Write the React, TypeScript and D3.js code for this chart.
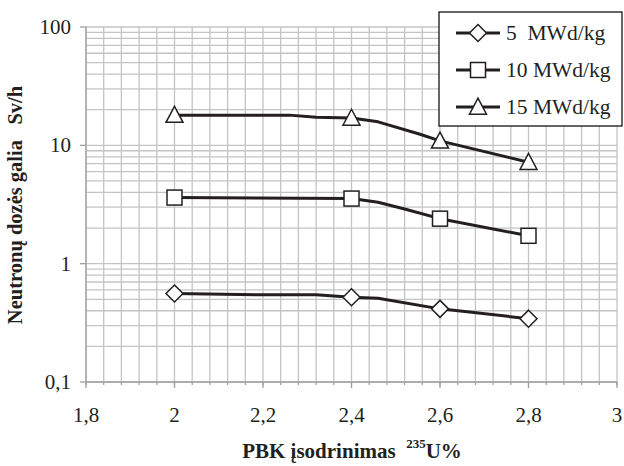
import React from "react";
import { scaleLinear, scaleLog, line, range } from "d3";

// marker positions (enrichment, %)
const markerX = [2.0, 2.4, 2.6, 2.8];
const burnup5 = [0.56, 0.52, 0.415, 0.343];
const burnup10 = [3.62, 3.55, 2.4, 1.72];
const burnup15 = [18.0, 17.0, 10.9, 7.2];

// line vertices
const line5X = [2.0, 2.2, 2.32, 2.4, 2.46, 2.6, 2.8];
const line5Y = [0.56, 0.545, 0.545, 0.52, 0.51, 0.415, 0.343];
const line10X = [2.0, 2.4, 2.46, 2.52, 2.6, 2.8];
const line10Y = [3.62, 3.55, 3.3, 2.9, 2.4, 1.72];
const line15X = [2.0, 2.26, 2.32, 2.4, 2.46, 2.555, 2.6, 2.8];
const line15Y = [18.0, 18.0, 17.3, 17.0, 15.8, 12.4, 10.9, 7.2];

const seriesNames = ["5  MWd/kg", "10 MWd/kg", "15 MWd/kg"];
const markerTypes = ["diamond", "square", "triangle"];

const xTicks = [1.8, 2, 2.2, 2.4, 2.6, 2.8, 3];
const xTickLabels = ["1,8", "2", "2,2", "2,4", "2,6", "2,8", "3"];
const yTicks = [0.1, 1, 10, 100];
const yTickLabels = ["0,1", "1", "10", "100"];

const W = 624, H = 466;
const left = 86, right = 617, top = 27, bottom = 382;
const font = "'Liberation Serif', 'Times New Roman', serif";
const ink = "#231f20";
const gridColor = "#c4c4c4";

function Marker({ type, cx, cy }: { type: string; cx: number; cy: number }) {
  const st = { fill: "#fff", stroke: ink, strokeWidth: 1.5 };
  if (type === "diamond") {
    const r = 8.5;
    return <path d={`M${cx},${cy - r}L${cx + r},${cy}L${cx},${cy + r}L${cx - r},${cy}Z`} {...st} />;
  }
  if (type === "square") {
    const s = 15;
    return <rect x={cx - s / 2} y={cy - s / 2} width={s} height={s} {...st} />;
  }
  const w = 17, h = 16;
  return <path d={`M${cx},${cy - h * 0.55}L${cx + w / 2},${cy + h * 0.45}L${cx - w / 2},${cy + h * 0.45}Z`} {...st} />;
}

export default function App() {
  const x = scaleLinear().domain([1.8, 3]).range([left, right]);
  const y = scaleLog().domain([0.1, 100]).range([bottom, top]);

  const xMinor = range(0, 31).map((i) => 1.8 + i * 0.04);
  const yMinor: number[] = [];
  [0.1, 1, 10].forEach((d) => range(1, 10).forEach((k) => yMinor.push(d * k)));
  yMinor.push(100);

  const lineGen = line<[number, number]>()
    .x((d) => x(d[0]))
    .y((d) => y(d[1]));

  const lines = [
    line5X.map((v, i) => [v, line5Y[i]] as [number, number]),
    line10X.map((v, i) => [v, line10Y[i]] as [number, number]),
    line15X.map((v, i) => [v, line15Y[i]] as [number, number]),
  ];
  const markers = [burnup5, burnup10, burnup15];

  const legendRows = [33, 70, 107];

  return (
    <svg width={W} height={H} style={{ position: "absolute", left: 0, top: 0, background: "#fff" }} fontFamily={font}>
      <rect width={W} height={H} fill="#fff" />
      {/* grid */}
      {xMinor.map((v, i) => (
        <line key={"gx" + i} x1={x(v)} x2={x(v)} y1={top} y2={bottom} stroke={gridColor} strokeWidth={1.3} />
      ))}
      {yMinor.map((v, i) => (
        <line key={"gy" + i} x1={left} x2={right} y1={y(v)} y2={y(v)} stroke={gridColor} strokeWidth={1.3} />
      ))}
      {/* axes */}
      <line x1={left} x2={left} y1={top} y2={bottom} stroke="#a0a0a0" strokeWidth={1.3} />
      <line x1={left} x2={right} y1={bottom} y2={bottom} stroke="#a0a0a0" strokeWidth={1.3} />
      {yTicks.map((v, i) => (
        <g key={"yt" + i}>
          <line x1={left - 6} x2={left} y1={y(v)} y2={y(v)} stroke="#a0a0a0" strokeWidth={1.3} />
          <text x={71} y={y(v) + 7} textAnchor="end" fontSize={21} fill={ink}>
            {yTickLabels[i]}
          </text>
        </g>
      ))}
      {xMinor.map((v, i) => (
        <line key={"xm" + i} x1={x(v)} x2={x(v)} y1={bottom} y2={bottom + 3} stroke="#a0a0a0" strokeWidth={1.3} />
      ))}
      {xTicks.map((v, i) => (
        <g key={"xt" + i}>
          <line x1={x(v)} x2={x(v)} y1={bottom} y2={bottom + 6} stroke="#a0a0a0" strokeWidth={1.3} />
          <text x={x(v)} y={422} textAnchor="middle" fontSize={21} fill={ink}>
            {xTickLabels[i]}
          </text>
        </g>
      ))}
      {/* series */}
      {lines.map((pts, i) => (
        <path key={"l" + i} d={lineGen(pts) || ""} fill="none" stroke={ink} strokeWidth={3} strokeLinejoin="round" />
      ))}
      {markers.map((vals, i) =>
        vals.map((v, j) => <Marker key={"m" + i + "-" + j} type={markerTypes[i]} cx={x(markerX[j])} cy={y(v)} />)
      )}
      {/* legend */}
      <rect x={439} y={12} width={183} height={114} fill="#fff" stroke="#000" strokeWidth={1.2} />
      {seriesNames.map((name, i) => (
        <g key={"lg" + i}>
          <line x1={456} x2={500} y1={legendRows[i]} y2={legendRows[i]} stroke={ink} strokeWidth={3} />
          <Marker type={markerTypes[i]} cx={478} cy={legendRows[i]} />
          <text x={506} y={legendRows[i] + 7} fontSize={21.5} fill={ink} style={{ whiteSpace: "pre" }}>
            {name}
          </text>
        </g>
      ))}
      {/* axis titles */}
      <text
        transform="translate(22,205) rotate(-90)"
        textAnchor="middle"
        fontSize={20.5}
        fontWeight="bold"
        fill={ink}
        style={{ whiteSpace: "pre" }}
      >
        {"Neutronų dozės galia   Sv/h"}
      </text>
      <text x={352} y={458} textAnchor="middle" fontSize={21} fontWeight="bold" fill={ink} style={{ whiteSpace: "pre" }}>
        {"PBK įsodrinimas  "}
        <tspan fontSize={13} dy={-10}>235</tspan>
        <tspan dy={10}>U%</tspan>
      </text>
    </svg>
  );
}
